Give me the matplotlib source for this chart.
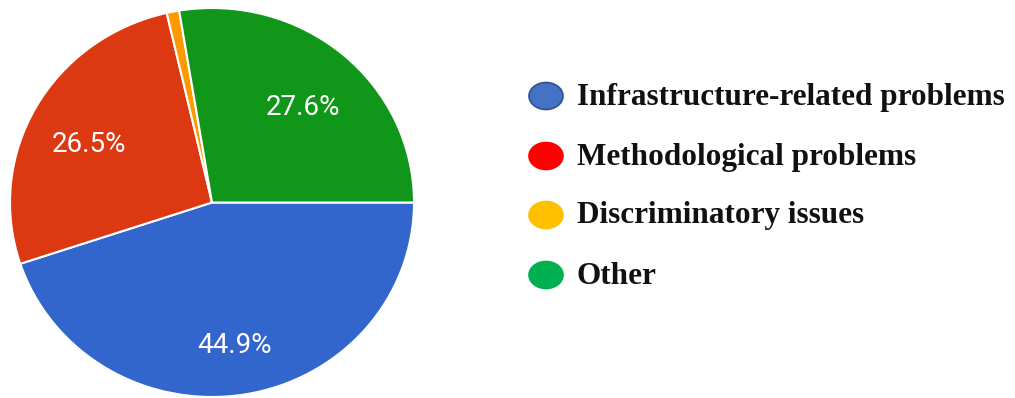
import matplotlib
matplotlib.use("Agg")
import matplotlib.pyplot as plt
from matplotlib.patches import Ellipse
from matplotlib.transforms import offset_copy

categories = ["Infrastructure-related problems", "Methodological problems",
              "Discriminatory issues", "Other"]
shares = [44.9, 26.5, 1.0, 27.6]
slice_colors = ["#3366CC", "#DC3912", "#FF9900", "#109618"]
legend_colors = ["#4472C4", "#FF0000", "#FFC000", "#00B050"]
legend_edges = ["#2F528F", "#FF0000", "#FFC000", "#00B050"]

W, H = 1015, 398
fig = plt.figure(figsize=(W / 100, H / 100), dpi=100)

# Pie area (in pixels: x 10..414, y 8..397 from top)
ax = fig.add_axes([10 / W, 1 / H, 404 / W, 389 / H])
wedges, _, autotexts = ax.pie(
    shares, colors=slice_colors, startangle=0, counterclock=False,
    autopct=lambda p: f"{p:.1f}%" if p >= 5 else "",
    pctdistance=0.70,
    wedgeprops=dict(edgecolor="white", linewidth=1.5),
    textprops=dict(color="white", fontsize=20, family="Roboto"),
)
for t in autotexts:
    t.set_transform(offset_copy(ax.transData, fig=fig, x=0, y=-9, units="dots"))
ax.set_xlim(-1.0, 1.0)
ax.set_ylim(-1.0, 1.0)
ax.set_aspect("auto")
ax.axis("off")

# Legend drawn in pixel coordinates
lg = fig.add_axes([0, 0, 1, 1])
lg.set_xlim(0, W)
lg.set_ylim(H, 0)
lg.axis("off")
rows_y = [96, 156, 215, 275]
for name, fc, ec, y in zip(categories, legend_colors, legend_edges, rows_y):
    lg.add_patch(Ellipse((546, y), 34, 27, facecolor=fc, edgecolor=ec, linewidth=1.2))
    lg.text(577, y + 1, name, fontsize=22.5, fontweight="bold", family="Liberation Serif",
            va="center", ha="left", color="#111111")

fig.savefig("out.png", dpi=100)
